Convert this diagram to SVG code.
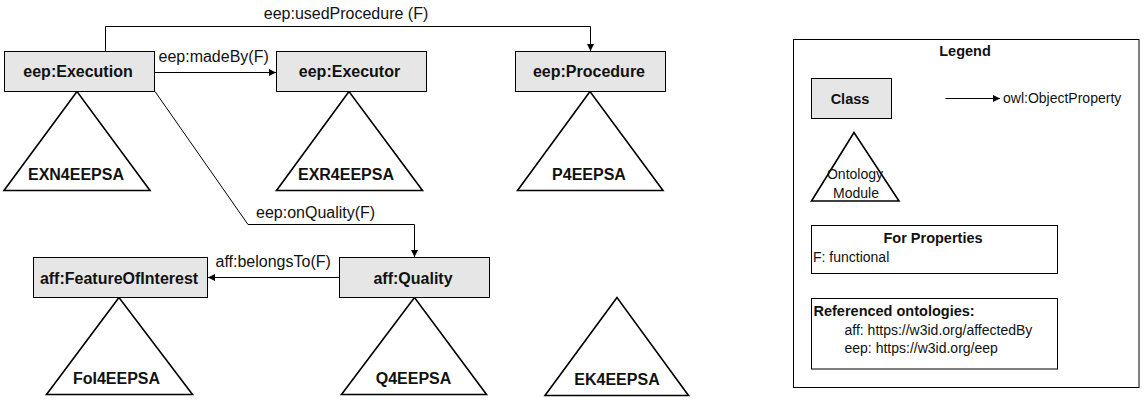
<svg xmlns="http://www.w3.org/2000/svg" width="1144" height="404" viewBox="0 0 1144 404">
<style>
.cls{fill:#e6e6e6;stroke:#000;stroke-width:1}
.tri{fill:#fff;stroke:#000;stroke-width:1.6;stroke-linejoin:miter}
.ct{font-family:"Liberation Sans",Arial,sans-serif;font-weight:bold;font-size:16px;fill:#111;text-anchor:middle}
.el{font-family:"Liberation Sans",Arial,sans-serif;font-size:16px;fill:#111}
.lg{font-family:"Liberation Sans",Arial,sans-serif;font-size:14px;fill:#111}
.lgb{font-family:"Liberation Sans",Arial,sans-serif;font-size:14.5px;font-weight:bold;fill:#111}
.edge{fill:none;stroke:#000;stroke-width:1}
.box{fill:#fff;stroke:#000;stroke-width:1}
</style>
<defs>
<marker id="arr" markerUnits="userSpaceOnUse" markerWidth="8" markerHeight="8" refX="7" refY="3.5" orient="auto">
<path d="M0,0 L7,3.5 L0,7 z" fill="#000"/>
</marker>
</defs>
<rect width="1144" height="404" fill="#fff"/>

<g id="connectors">
<path class="edge" d="M105.5,51.5 V26.5 H590.5 V51" marker-end="url(#arr)"/>
<text class="el" x="346" y="19" text-anchor="middle">eep:usedProcedure (F)</text>
<path class="edge" d="M154.5,72.5 H276" marker-end="url(#arr)"/>
<text class="el" x="158.5" y="62">eep:madeBy(F)</text>
<path class="edge" d="M155,91.5 L248,224.5 H414.5 V257" marker-end="url(#arr)"/>
<text class="el" x="256" y="218">eep:onQuality(F)</text>
<path class="edge" d="M339.5,277.5 H208" marker-end="url(#arr)"/>
<text class="el" x="215.5" y="267">aff:belongsTo(F)</text>
</g>

<g id="execution">
<polygon class="tri" points="77,91.5 4,190.5 150,190.5"/>
<rect class="cls" x="4.5" y="51.5" width="150" height="40"/>
<text class="ct" x="78" y="77">eep:Execution</text>
<text class="ct" x="76" y="180">EXN4EEPSA</text>
</g>

<g id="executor">
<polygon class="tri" points="349,91.5 276.5,190.5 422.5,190.5"/>
<rect class="cls" x="276.5" y="51.5" width="150" height="40"/>
<text class="ct" x="349.5" y="77">eep:Executor</text>
<text class="ct" x="346" y="180">EXR4EEPSA</text>
</g>

<g id="procedure">
<polygon class="tri" points="590,91.5 517.5,190.5 663,190.5"/>
<rect class="cls" x="515.5" y="51.5" width="150" height="40"/>
<text class="ct" x="589" y="77">eep:Procedure</text>
<text class="ct" x="589" y="180">P4EEPSA</text>
</g>

<g id="featureOfInterest">
<polygon class="tri" points="119,297.5 46.5,394.5 192.5,394.5"/>
<rect class="cls" x="33.5" y="257.5" width="174" height="40"/>
<text class="ct" x="119" y="283.5">aff:FeatureOfInterest</text>
<text class="ct" x="116.5" y="384">FoI4EEPSA</text>
</g>

<g id="quality">
<polygon class="tri" points="414.5,297.5 341.5,394.5 486.5,394.5"/>
<rect class="cls" x="339.5" y="257.5" width="150" height="40"/>
<text class="ct" x="413" y="283.5">aff:Quality</text>
<text class="ct" x="413.5" y="384">Q4EEPSA</text>
</g>

<g id="ek4eepsa">
<polygon class="tri" points="617,297.5 545,395.5 688.5,395.5"/>
<text class="ct" x="617" y="385">EK4EEPSA</text>
</g>

<g id="legend">
<rect class="box" x="793.5" y="39.5" width="345.5" height="348"/>
<text class="lgb" x="965" y="56" text-anchor="middle">Legend</text>
<rect class="cls" x="811.5" y="78.5" width="80" height="40"/>
<text class="lgb" x="850" y="103.5" text-anchor="middle">Class</text>
<path class="edge" d="M945.5,98.5 H1000" stroke-width="1.6" marker-end="url(#arr)"/>
<text class="lg" x="1003" y="103">owl:ObjectProperty</text>
<polygon class="tri" points="854,132.5 811.5,201 899,201"/>
<text class="lg" x="855" y="179" text-anchor="middle">Ontology</text>
<text class="lg" x="856" y="198" text-anchor="middle">Module</text>
<rect class="box" x="811.5" y="225.5" width="246" height="48"/>
<text class="lgb" x="933" y="243" text-anchor="middle">For Properties</text>
<text class="lg" x="813" y="262">F: functional</text>
<rect class="box" x="811.5" y="298.5" width="246" height="70.5"/>
<text class="lgb" x="813.5" y="316">Referenced ontologies:</text>
<text class="lg" x="844.5" y="334.5">aff: https://w3id.org/affectedBy</text>
<text class="lg" x="844.5" y="353">eep: https://w3id.org/eep</text>
</g>
</svg>
